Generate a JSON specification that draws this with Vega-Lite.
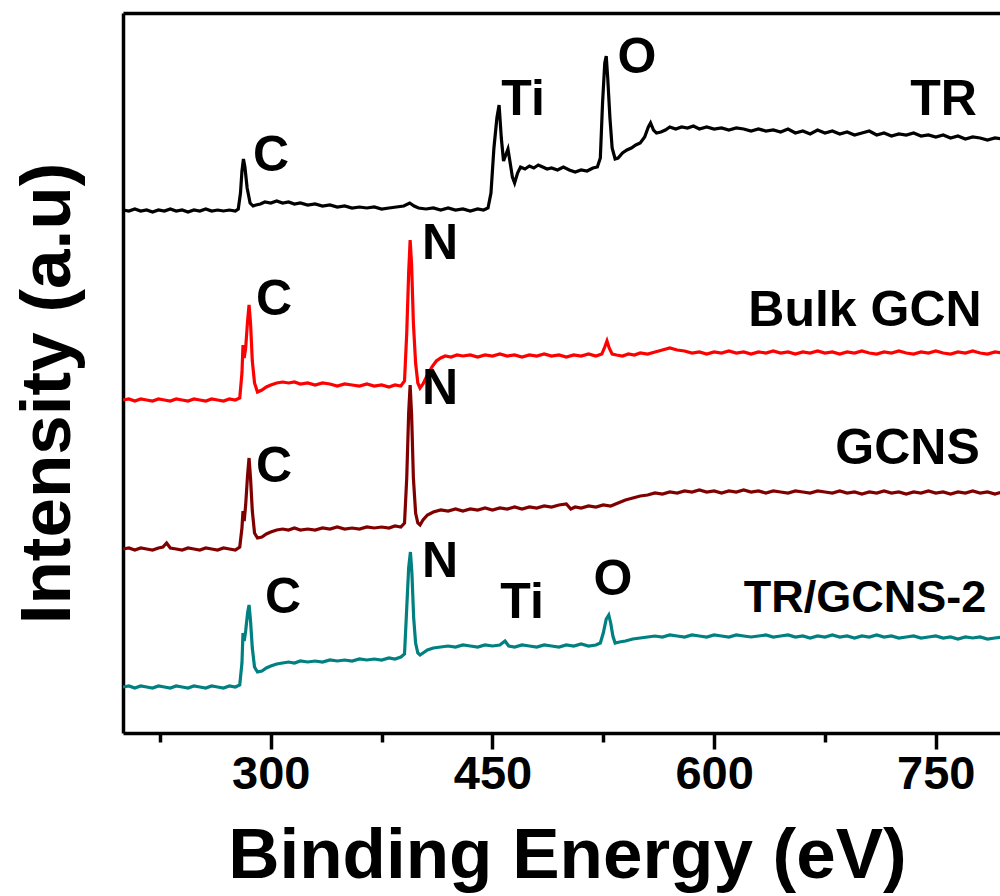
{
"$schema": "https://vega.github.io/schema/vega-lite/v6.json",
"width": 877, "height": 720,
"autosize": {"type": "none"},
"padding": {"left": 123, "top": 13, "right": 0, "bottom": 163},
"background": "white",
"config": {"view": {"stroke": null}, "font": "Liberation Sans"},
"datasets": {
"spectra": [
{"s":"TR","x":200,"y":523},{"s":"TR","x":204,"y":522},{"s":"TR","x":208,"y":524},{"s":"TR","x":212,"y":522},{"s":"TR","x":216,"y":523},{"s":"TR","x":220,"y":521},{"s":"TR","x":224,"y":523},{"s":"TR","x":228,"y":522},{"s":"TR","x":232,"y":524},{"s":"TR","x":236,"y":522},{"s":"TR","x":240,"y":523},{"s":"TR","x":244,"y":521},{"s":"TR","x":248,"y":523},{"s":"TR","x":252,"y":522},{"s":"TR","x":256,"y":524},{"s":"TR","x":260,"y":522},{"s":"TR","x":264,"y":523},{"s":"TR","x":268,"y":522},{"s":"TR","x":272,"y":523},{"s":"TR","x":276,"y":522},{"s":"TR","x":278,"y":524},{"s":"TR","x":279.5,"y":540},{"s":"TR","x":280.5,"y":562},{"s":"TR","x":281.5,"y":574},{"s":"TR","x":282.5,"y":566},{"s":"TR","x":284,"y":545},{"s":"TR","x":286,"y":530},{"s":"TR","x":288,"y":527},{"s":"TR","x":290,"y":528},{"s":"TR","x":293,"y":529},{"s":"TR","x":296,"y":531},{"s":"TR","x":300,"y":530},{"s":"TR","x":304,"y":532},{"s":"TR","x":308,"y":530},{"s":"TR","x":312,"y":531},{"s":"TR","x":316,"y":529},{"s":"TR","x":320,"y":530},{"s":"TR","x":325,"y":528},{"s":"TR","x":330,"y":529},{"s":"TR","x":335,"y":527},{"s":"TR","x":340,"y":528},{"s":"TR","x":345,"y":526},{"s":"TR","x":350,"y":527},{"s":"TR","x":355,"y":525},{"s":"TR","x":360,"y":526},{"s":"TR","x":365,"y":525},{"s":"TR","x":370,"y":526},{"s":"TR","x":375,"y":524},{"s":"TR","x":380,"y":525},{"s":"TR","x":385,"y":526},{"s":"TR","x":390,"y":527},{"s":"TR","x":394,"y":530},{"s":"TR","x":397,"y":527},{"s":"TR","x":400,"y":525},{"s":"TR","x":405,"y":524},{"s":"TR","x":410,"y":525},{"s":"TR","x":415,"y":523},{"s":"TR","x":420,"y":525},{"s":"TR","x":425,"y":523},{"s":"TR","x":430,"y":524},{"s":"TR","x":435,"y":522},{"s":"TR","x":440,"y":524},{"s":"TR","x":444,"y":523},{"s":"TR","x":447,"y":525},{"s":"TR","x":449,"y":540},{"s":"TR","x":451,"y":585},{"s":"TR","x":453,"y":615},{"s":"TR","x":454.5,"y":628},{"s":"TR","x":456,"y":595},{"s":"TR","x":457.5,"y":572},{"s":"TR","x":459,"y":578},{"s":"TR","x":460.5,"y":584},{"s":"TR","x":462,"y":570},{"s":"TR","x":463.5,"y":556},{"s":"TR","x":465,"y":550},{"s":"TR","x":467,"y":560},{"s":"TR","x":469,"y":566},{"s":"TR","x":472,"y":564},{"s":"TR","x":475,"y":567},{"s":"TR","x":478,"y":565},{"s":"TR","x":481,"y":568},{"s":"TR","x":484,"y":566},{"s":"TR","x":487,"y":564},{"s":"TR","x":490,"y":565},{"s":"TR","x":494,"y":563},{"s":"TR","x":498,"y":566},{"s":"TR","x":502,"y":563},{"s":"TR","x":506,"y":561},{"s":"TR","x":510,"y":563},{"s":"TR","x":514,"y":562},{"s":"TR","x":518,"y":565},{"s":"TR","x":521,"y":566},{"s":"TR","x":523,"y":575},{"s":"TR","x":524.5,"y":630},{"s":"TR","x":526,"y":670},{"s":"TR","x":527,"y":677},{"s":"TR","x":528,"y":655},{"s":"TR","x":529.5,"y":615},{"s":"TR","x":531,"y":585},{"s":"TR","x":533,"y":574},{"s":"TR","x":535,"y":575},{"s":"TR","x":538,"y":580},{"s":"TR","x":541,"y":583},{"s":"TR","x":544,"y":585},{"s":"TR","x":547,"y":588},{"s":"TR","x":550,"y":590},{"s":"TR","x":553,"y":596},{"s":"TR","x":555.5,"y":606},{"s":"TR","x":557,"y":610},{"s":"TR","x":559,"y":603},{"s":"TR","x":561,"y":600},{"s":"TR","x":564,"y":601},{"s":"TR","x":567,"y":603},{"s":"TR","x":570,"y":606},{"s":"TR","x":574,"y":604},{"s":"TR","x":578,"y":606},{"s":"TR","x":582,"y":605},{"s":"TR","x":586,"y":607},{"s":"TR","x":590,"y":604},{"s":"TR","x":595,"y":606},{"s":"TR","x":600,"y":604},{"s":"TR","x":605,"y":605},{"s":"TR","x":610,"y":603},{"s":"TR","x":615,"y":605},{"s":"TR","x":620,"y":604},{"s":"TR","x":625,"y":602},{"s":"TR","x":630,"y":604},{"s":"TR","x":635,"y":602},{"s":"TR","x":640,"y":603},{"s":"TR","x":645,"y":601},{"s":"TR","x":650,"y":604},{"s":"TR","x":655,"y":600},{"s":"TR","x":660,"y":602},{"s":"TR","x":665,"y":599},{"s":"TR","x":670,"y":603},{"s":"TR","x":675,"y":600},{"s":"TR","x":680,"y":602},{"s":"TR","x":685,"y":599},{"s":"TR","x":690,"y":601},{"s":"TR","x":695,"y":598},{"s":"TR","x":700,"y":600},{"s":"TR","x":705,"y":602},{"s":"TR","x":710,"y":598},{"s":"TR","x":715,"y":600},{"s":"TR","x":720,"y":597},{"s":"TR","x":725,"y":599},{"s":"TR","x":730,"y":598},{"s":"TR","x":735,"y":600},{"s":"TR","x":740,"y":597},{"s":"TR","x":745,"y":598},{"s":"TR","x":750,"y":596},{"s":"TR","x":755,"y":598},{"s":"TR","x":760,"y":595},{"s":"TR","x":765,"y":597},{"s":"TR","x":770,"y":594},{"s":"TR","x":775,"y":596},{"s":"TR","x":780,"y":595},{"s":"TR","x":785,"y":593},{"s":"TR","x":790,"y":595},{"s":"TR","x":795,"y":594},
{"s":"Bulk GCN","x":200,"y":333},{"s":"Bulk GCN","x":204,"y":334},{"s":"Bulk GCN","x":208,"y":332},{"s":"Bulk GCN","x":212,"y":334},{"s":"Bulk GCN","x":216,"y":333},{"s":"Bulk GCN","x":220,"y":332},{"s":"Bulk GCN","x":224,"y":334},{"s":"Bulk GCN","x":228,"y":333},{"s":"Bulk GCN","x":232,"y":332},{"s":"Bulk GCN","x":236,"y":334},{"s":"Bulk GCN","x":240,"y":333},{"s":"Bulk GCN","x":244,"y":332},{"s":"Bulk GCN","x":248,"y":334},{"s":"Bulk GCN","x":252,"y":333},{"s":"Bulk GCN","x":256,"y":332},{"s":"Bulk GCN","x":260,"y":334},{"s":"Bulk GCN","x":264,"y":333},{"s":"Bulk GCN","x":268,"y":332},{"s":"Bulk GCN","x":272,"y":334},{"s":"Bulk GCN","x":276,"y":333},{"s":"Bulk GCN","x":279,"y":335},{"s":"Bulk GCN","x":280.5,"y":360},{"s":"Bulk GCN","x":281.2,"y":388},{"s":"Bulk GCN","x":282,"y":375},{"s":"Bulk GCN","x":283,"y":385},{"s":"Bulk GCN","x":284.3,"y":412},{"s":"Bulk GCN","x":285.3,"y":428},{"s":"Bulk GCN","x":286.3,"y":410},{"s":"Bulk GCN","x":287.5,"y":372},{"s":"Bulk GCN","x":289,"y":350},{"s":"Bulk GCN","x":291,"y":341},{"s":"Bulk GCN","x":294,"y":343},{"s":"Bulk GCN","x":297,"y":346},{"s":"Bulk GCN","x":300,"y":348},{"s":"Bulk GCN","x":304,"y":350},{"s":"Bulk GCN","x":308,"y":351},{"s":"Bulk GCN","x":312,"y":350},{"s":"Bulk GCN","x":316,"y":351},{"s":"Bulk GCN","x":320,"y":349},{"s":"Bulk GCN","x":325,"y":350},{"s":"Bulk GCN","x":330,"y":348},{"s":"Bulk GCN","x":335,"y":350},{"s":"Bulk GCN","x":340,"y":349},{"s":"Bulk GCN","x":345,"y":347},{"s":"Bulk GCN","x":350,"y":349},{"s":"Bulk GCN","x":355,"y":348},{"s":"Bulk GCN","x":360,"y":347},{"s":"Bulk GCN","x":365,"y":349},{"s":"Bulk GCN","x":370,"y":347},{"s":"Bulk GCN","x":375,"y":348},{"s":"Bulk GCN","x":380,"y":346},{"s":"Bulk GCN","x":384,"y":348},{"s":"Bulk GCN","x":388,"y":347},{"s":"Bulk GCN","x":390.5,"y":352},{"s":"Bulk GCN","x":392,"y":400},{"s":"Bulk GCN","x":393.3,"y":460},{"s":"Bulk GCN","x":394.3,"y":493},{"s":"Bulk GCN","x":395.3,"y":468},{"s":"Bulk GCN","x":396.5,"y":410},{"s":"Bulk GCN","x":398,"y":370},{"s":"Bulk GCN","x":399.5,"y":350},{"s":"Bulk GCN","x":401,"y":345},{"s":"Bulk GCN","x":403,"y":349},{"s":"Bulk GCN","x":406,"y":358},{"s":"Bulk GCN","x":409,"y":366},{"s":"Bulk GCN","x":412,"y":372},{"s":"Bulk GCN","x":415,"y":375},{"s":"Bulk GCN","x":418,"y":377},{"s":"Bulk GCN","x":422,"y":376},{"s":"Bulk GCN","x":426,"y":378},{"s":"Bulk GCN","x":430,"y":377},{"s":"Bulk GCN","x":435,"y":378},{"s":"Bulk GCN","x":440,"y":376},{"s":"Bulk GCN","x":445,"y":378},{"s":"Bulk GCN","x":450,"y":377},{"s":"Bulk GCN","x":455,"y":379},{"s":"Bulk GCN","x":460,"y":377},{"s":"Bulk GCN","x":465,"y":378},{"s":"Bulk GCN","x":470,"y":376},{"s":"Bulk GCN","x":475,"y":378},{"s":"Bulk GCN","x":480,"y":377},{"s":"Bulk GCN","x":485,"y":379},{"s":"Bulk GCN","x":490,"y":377},{"s":"Bulk GCN","x":495,"y":378},{"s":"Bulk GCN","x":500,"y":376},{"s":"Bulk GCN","x":505,"y":378},{"s":"Bulk GCN","x":510,"y":377},{"s":"Bulk GCN","x":515,"y":379},{"s":"Bulk GCN","x":520,"y":377},{"s":"Bulk GCN","x":524,"y":379},{"s":"Bulk GCN","x":526,"y":386},{"s":"Bulk GCN","x":527.5,"y":392},{"s":"Bulk GCN","x":529,"y":385},{"s":"Bulk GCN","x":531,"y":379},{"s":"Bulk GCN","x":534,"y":378},{"s":"Bulk GCN","x":538,"y":377},{"s":"Bulk GCN","x":542,"y":379},{"s":"Bulk GCN","x":546,"y":378},{"s":"Bulk GCN","x":550,"y":380},{"s":"Bulk GCN","x":555,"y":379},{"s":"Bulk GCN","x":560,"y":381},{"s":"Bulk GCN","x":565,"y":383},{"s":"Bulk GCN","x":570,"y":385},{"s":"Bulk GCN","x":575,"y":383},{"s":"Bulk GCN","x":580,"y":382},{"s":"Bulk GCN","x":585,"y":380},{"s":"Bulk GCN","x":590,"y":381},{"s":"Bulk GCN","x":595,"y":379},{"s":"Bulk GCN","x":600,"y":381},{"s":"Bulk GCN","x":605,"y":380},{"s":"Bulk GCN","x":610,"y":382},{"s":"Bulk GCN","x":615,"y":380},{"s":"Bulk GCN","x":620,"y":381},{"s":"Bulk GCN","x":625,"y":379},{"s":"Bulk GCN","x":630,"y":381},{"s":"Bulk GCN","x":635,"y":380},{"s":"Bulk GCN","x":640,"y":382},{"s":"Bulk GCN","x":645,"y":380},{"s":"Bulk GCN","x":650,"y":381},{"s":"Bulk GCN","x":655,"y":379},{"s":"Bulk GCN","x":660,"y":381},{"s":"Bulk GCN","x":665,"y":380},{"s":"Bulk GCN","x":670,"y":382},{"s":"Bulk GCN","x":675,"y":380},{"s":"Bulk GCN","x":680,"y":381},{"s":"Bulk GCN","x":685,"y":379},{"s":"Bulk GCN","x":690,"y":381},{"s":"Bulk GCN","x":695,"y":380},{"s":"Bulk GCN","x":700,"y":382},{"s":"Bulk GCN","x":705,"y":380},{"s":"Bulk GCN","x":710,"y":379},{"s":"Bulk GCN","x":715,"y":381},{"s":"Bulk GCN","x":720,"y":380},{"s":"Bulk GCN","x":725,"y":382},{"s":"Bulk GCN","x":730,"y":380},{"s":"Bulk GCN","x":735,"y":379},{"s":"Bulk GCN","x":740,"y":381},{"s":"Bulk GCN","x":745,"y":380},{"s":"Bulk GCN","x":750,"y":382},{"s":"Bulk GCN","x":755,"y":380},{"s":"Bulk GCN","x":760,"y":379},{"s":"Bulk GCN","x":765,"y":381},{"s":"Bulk GCN","x":770,"y":380},{"s":"Bulk GCN","x":775,"y":382},{"s":"Bulk GCN","x":780,"y":380},{"s":"Bulk GCN","x":785,"y":379},{"s":"Bulk GCN","x":790,"y":381},{"s":"Bulk GCN","x":795,"y":380},
{"s":"GCNS","x":200,"y":184},{"s":"GCNS","x":204,"y":185},{"s":"GCNS","x":208,"y":183},{"s":"GCNS","x":212,"y":185},{"s":"GCNS","x":216,"y":184},{"s":"GCNS","x":220,"y":183},{"s":"GCNS","x":224,"y":185},{"s":"GCNS","x":227,"y":186},{"s":"GCNS","x":229.5,"y":190},{"s":"GCNS","x":232,"y":185},{"s":"GCNS","x":236,"y":184},{"s":"GCNS","x":240,"y":183},{"s":"GCNS","x":244,"y":185},{"s":"GCNS","x":248,"y":184},{"s":"GCNS","x":252,"y":183},{"s":"GCNS","x":256,"y":185},{"s":"GCNS","x":260,"y":184},{"s":"GCNS","x":264,"y":183},{"s":"GCNS","x":268,"y":185},{"s":"GCNS","x":272,"y":184},{"s":"GCNS","x":276,"y":183},{"s":"GCNS","x":279,"y":186},{"s":"GCNS","x":280.5,"y":205},{"s":"GCNS","x":281.2,"y":222},{"s":"GCNS","x":282,"y":212},{"s":"GCNS","x":283,"y":228},{"s":"GCNS","x":284.3,"y":258},{"s":"GCNS","x":285.3,"y":275},{"s":"GCNS","x":286.3,"y":255},{"s":"GCNS","x":287.5,"y":222},{"s":"GCNS","x":289,"y":200},{"s":"GCNS","x":291,"y":195},{"s":"GCNS","x":294,"y":196},{"s":"GCNS","x":297,"y":199},{"s":"GCNS","x":300,"y":201},{"s":"GCNS","x":304,"y":203},{"s":"GCNS","x":308,"y":204},{"s":"GCNS","x":312,"y":203},{"s":"GCNS","x":316,"y":205},{"s":"GCNS","x":320,"y":203},{"s":"GCNS","x":325,"y":204},{"s":"GCNS","x":330,"y":203},{"s":"GCNS","x":335,"y":205},{"s":"GCNS","x":340,"y":204},{"s":"GCNS","x":345,"y":206},{"s":"GCNS","x":350,"y":204},{"s":"GCNS","x":355,"y":205},{"s":"GCNS","x":360,"y":204},{"s":"GCNS","x":365,"y":206},{"s":"GCNS","x":370,"y":205},{"s":"GCNS","x":375,"y":206},{"s":"GCNS","x":380,"y":205},{"s":"GCNS","x":384,"y":207},{"s":"GCNS","x":388,"y":206},{"s":"GCNS","x":390.5,"y":210},{"s":"GCNS","x":392,"y":255},{"s":"GCNS","x":393.3,"y":320},{"s":"GCNS","x":394.3,"y":348},{"s":"GCNS","x":395.3,"y":318},{"s":"GCNS","x":396.5,"y":255},{"s":"GCNS","x":398,"y":220},{"s":"GCNS","x":399.5,"y":210},{"s":"GCNS","x":401,"y":208},{"s":"GCNS","x":403,"y":213},{"s":"GCNS","x":406,"y":218},{"s":"GCNS","x":410,"y":221},{"s":"GCNS","x":415,"y":223},{"s":"GCNS","x":420,"y":222},{"s":"GCNS","x":425,"y":224},{"s":"GCNS","x":430,"y":222},{"s":"GCNS","x":435,"y":224},{"s":"GCNS","x":440,"y":223},{"s":"GCNS","x":445,"y":225},{"s":"GCNS","x":450,"y":223},{"s":"GCNS","x":455,"y":225},{"s":"GCNS","x":460,"y":224},{"s":"GCNS","x":465,"y":226},{"s":"GCNS","x":470,"y":224},{"s":"GCNS","x":475,"y":226},{"s":"GCNS","x":480,"y":225},{"s":"GCNS","x":485,"y":227},{"s":"GCNS","x":490,"y":226},{"s":"GCNS","x":495,"y":228},{"s":"GCNS","x":500,"y":229},{"s":"GCNS","x":503,"y":224},{"s":"GCNS","x":506,"y":226},{"s":"GCNS","x":510,"y":225},{"s":"GCNS","x":515,"y":227},{"s":"GCNS","x":520,"y":226},{"s":"GCNS","x":525,"y":228},{"s":"GCNS","x":530,"y":227},{"s":"GCNS","x":535,"y":230},{"s":"GCNS","x":540,"y":233},{"s":"GCNS","x":545,"y":235},{"s":"GCNS","x":550,"y":237},{"s":"GCNS","x":555,"y":238},{"s":"GCNS","x":560,"y":240},{"s":"GCNS","x":565,"y":239},{"s":"GCNS","x":570,"y":241},{"s":"GCNS","x":575,"y":240},{"s":"GCNS","x":580,"y":242},{"s":"GCNS","x":585,"y":241},{"s":"GCNS","x":590,"y":243},{"s":"GCNS","x":595,"y":241},{"s":"GCNS","x":600,"y":242},{"s":"GCNS","x":605,"y":240},{"s":"GCNS","x":610,"y":242},{"s":"GCNS","x":615,"y":241},{"s":"GCNS","x":620,"y":243},{"s":"GCNS","x":625,"y":241},{"s":"GCNS","x":630,"y":242},{"s":"GCNS","x":635,"y":240},{"s":"GCNS","x":640,"y":242},{"s":"GCNS","x":645,"y":241},{"s":"GCNS","x":650,"y":240},{"s":"GCNS","x":655,"y":242},{"s":"GCNS","x":660,"y":241},{"s":"GCNS","x":665,"y":240},{"s":"GCNS","x":670,"y":242},{"s":"GCNS","x":675,"y":241},{"s":"GCNS","x":680,"y":240},{"s":"GCNS","x":685,"y":242},{"s":"GCNS","x":690,"y":240},{"s":"GCNS","x":695,"y":241},{"s":"GCNS","x":700,"y":239},{"s":"GCNS","x":705,"y":241},{"s":"GCNS","x":710,"y":240},{"s":"GCNS","x":715,"y":242},{"s":"GCNS","x":720,"y":240},{"s":"GCNS","x":725,"y":241},{"s":"GCNS","x":730,"y":239},{"s":"GCNS","x":735,"y":241},{"s":"GCNS","x":740,"y":240},{"s":"GCNS","x":745,"y":242},{"s":"GCNS","x":750,"y":240},{"s":"GCNS","x":755,"y":241},{"s":"GCNS","x":760,"y":239},{"s":"GCNS","x":765,"y":241},{"s":"GCNS","x":770,"y":240},{"s":"GCNS","x":775,"y":242},{"s":"GCNS","x":780,"y":240},{"s":"GCNS","x":785,"y":241},{"s":"GCNS","x":790,"y":239},{"s":"GCNS","x":795,"y":241},
{"s":"TR/GCNS-2","x":200,"y":46},{"s":"TR/GCNS-2","x":204,"y":47},{"s":"TR/GCNS-2","x":208,"y":45},{"s":"TR/GCNS-2","x":212,"y":47},{"s":"TR/GCNS-2","x":216,"y":46},{"s":"TR/GCNS-2","x":220,"y":45},{"s":"TR/GCNS-2","x":224,"y":47},{"s":"TR/GCNS-2","x":228,"y":46},{"s":"TR/GCNS-2","x":232,"y":45},{"s":"TR/GCNS-2","x":236,"y":47},{"s":"TR/GCNS-2","x":240,"y":46},{"s":"TR/GCNS-2","x":244,"y":45},{"s":"TR/GCNS-2","x":248,"y":47},{"s":"TR/GCNS-2","x":252,"y":46},{"s":"TR/GCNS-2","x":256,"y":45},{"s":"TR/GCNS-2","x":260,"y":47},{"s":"TR/GCNS-2","x":264,"y":46},{"s":"TR/GCNS-2","x":268,"y":45},{"s":"TR/GCNS-2","x":272,"y":47},{"s":"TR/GCNS-2","x":276,"y":46},{"s":"TR/GCNS-2","x":279,"y":48},{"s":"TR/GCNS-2","x":280.5,"y":70},{"s":"TR/GCNS-2","x":281.2,"y":100},{"s":"TR/GCNS-2","x":282,"y":92},{"s":"TR/GCNS-2","x":283,"y":102},{"s":"TR/GCNS-2","x":284.3,"y":120},{"s":"TR/GCNS-2","x":285.3,"y":128},{"s":"TR/GCNS-2","x":286.3,"y":112},{"s":"TR/GCNS-2","x":287.5,"y":85},{"s":"TR/GCNS-2","x":289,"y":66},{"s":"TR/GCNS-2","x":291,"y":61},{"s":"TR/GCNS-2","x":294,"y":62},{"s":"TR/GCNS-2","x":297,"y":65},{"s":"TR/GCNS-2","x":300,"y":67},{"s":"TR/GCNS-2","x":304,"y":69},{"s":"TR/GCNS-2","x":308,"y":70},{"s":"TR/GCNS-2","x":312,"y":71},{"s":"TR/GCNS-2","x":316,"y":70},{"s":"TR/GCNS-2","x":320,"y":72},{"s":"TR/GCNS-2","x":325,"y":71},{"s":"TR/GCNS-2","x":330,"y":72},{"s":"TR/GCNS-2","x":335,"y":71},{"s":"TR/GCNS-2","x":340,"y":73},{"s":"TR/GCNS-2","x":345,"y":72},{"s":"TR/GCNS-2","x":350,"y":73},{"s":"TR/GCNS-2","x":355,"y":72},{"s":"TR/GCNS-2","x":360,"y":74},{"s":"TR/GCNS-2","x":365,"y":73},{"s":"TR/GCNS-2","x":370,"y":74},{"s":"TR/GCNS-2","x":375,"y":73},{"s":"TR/GCNS-2","x":380,"y":75},{"s":"TR/GCNS-2","x":384,"y":74},{"s":"TR/GCNS-2","x":388,"y":76},{"s":"TR/GCNS-2","x":390.5,"y":79},{"s":"TR/GCNS-2","x":392,"y":125},{"s":"TR/GCNS-2","x":393.3,"y":165},{"s":"TR/GCNS-2","x":394.5,"y":181},{"s":"TR/GCNS-2","x":395.5,"y":160},{"s":"TR/GCNS-2","x":396.7,"y":115},{"s":"TR/GCNS-2","x":398,"y":90},{"s":"TR/GCNS-2","x":399.5,"y":80},{"s":"TR/GCNS-2","x":401,"y":78},{"s":"TR/GCNS-2","x":403,"y":80},{"s":"TR/GCNS-2","x":406,"y":83},{"s":"TR/GCNS-2","x":410,"y":85},{"s":"TR/GCNS-2","x":415,"y":86},{"s":"TR/GCNS-2","x":420,"y":87},{"s":"TR/GCNS-2","x":425,"y":86},{"s":"TR/GCNS-2","x":430,"y":88},{"s":"TR/GCNS-2","x":435,"y":87},{"s":"TR/GCNS-2","x":440,"y":86},{"s":"TR/GCNS-2","x":445,"y":88},{"s":"TR/GCNS-2","x":450,"y":87},{"s":"TR/GCNS-2","x":455,"y":88},{"s":"TR/GCNS-2","x":458.5,"y":92},{"s":"TR/GCNS-2","x":461,"y":87},{"s":"TR/GCNS-2","x":465,"y":86},{"s":"TR/GCNS-2","x":470,"y":88},{"s":"TR/GCNS-2","x":475,"y":87},{"s":"TR/GCNS-2","x":480,"y":86},{"s":"TR/GCNS-2","x":485,"y":88},{"s":"TR/GCNS-2","x":490,"y":87},{"s":"TR/GCNS-2","x":495,"y":86},{"s":"TR/GCNS-2","x":500,"y":88},{"s":"TR/GCNS-2","x":505,"y":87},{"s":"TR/GCNS-2","x":510,"y":89},{"s":"TR/GCNS-2","x":515,"y":87},{"s":"TR/GCNS-2","x":520,"y":88},{"s":"TR/GCNS-2","x":523,"y":90},{"s":"TR/GCNS-2","x":525,"y":100},{"s":"TR/GCNS-2","x":527,"y":114},{"s":"TR/GCNS-2","x":528.7,"y":118},{"s":"TR/GCNS-2","x":530,"y":110},{"s":"TR/GCNS-2","x":531.5,"y":97},{"s":"TR/GCNS-2","x":533,"y":90},{"s":"TR/GCNS-2","x":536,"y":91},{"s":"TR/GCNS-2","x":540,"y":92},{"s":"TR/GCNS-2","x":545,"y":94},{"s":"TR/GCNS-2","x":550,"y":95},{"s":"TR/GCNS-2","x":555,"y":96},{"s":"TR/GCNS-2","x":560,"y":97},{"s":"TR/GCNS-2","x":565,"y":96},{"s":"TR/GCNS-2","x":570,"y":98},{"s":"TR/GCNS-2","x":575,"y":97},{"s":"TR/GCNS-2","x":580,"y":96},{"s":"TR/GCNS-2","x":585,"y":98},{"s":"TR/GCNS-2","x":590,"y":97},{"s":"TR/GCNS-2","x":595,"y":96},{"s":"TR/GCNS-2","x":600,"y":98},{"s":"TR/GCNS-2","x":605,"y":97},{"s":"TR/GCNS-2","x":610,"y":96},{"s":"TR/GCNS-2","x":615,"y":98},{"s":"TR/GCNS-2","x":620,"y":97},{"s":"TR/GCNS-2","x":625,"y":96},{"s":"TR/GCNS-2","x":630,"y":97},{"s":"TR/GCNS-2","x":635,"y":98},{"s":"TR/GCNS-2","x":640,"y":96},{"s":"TR/GCNS-2","x":645,"y":97},{"s":"TR/GCNS-2","x":650,"y":98},{"s":"TR/GCNS-2","x":655,"y":96},{"s":"TR/GCNS-2","x":660,"y":97},{"s":"TR/GCNS-2","x":665,"y":95},{"s":"TR/GCNS-2","x":670,"y":97},{"s":"TR/GCNS-2","x":675,"y":96},{"s":"TR/GCNS-2","x":680,"y":98},{"s":"TR/GCNS-2","x":685,"y":96},{"s":"TR/GCNS-2","x":690,"y":97},{"s":"TR/GCNS-2","x":695,"y":95},{"s":"TR/GCNS-2","x":700,"y":97},{"s":"TR/GCNS-2","x":705,"y":96},{"s":"TR/GCNS-2","x":710,"y":98},{"s":"TR/GCNS-2","x":715,"y":96},{"s":"TR/GCNS-2","x":720,"y":97},{"s":"TR/GCNS-2","x":725,"y":95},{"s":"TR/GCNS-2","x":730,"y":96},{"s":"TR/GCNS-2","x":735,"y":97},{"s":"TR/GCNS-2","x":740,"y":95},{"s":"TR/GCNS-2","x":745,"y":96},{"s":"TR/GCNS-2","x":750,"y":97},{"s":"TR/GCNS-2","x":755,"y":95},{"s":"TR/GCNS-2","x":760,"y":96},{"s":"TR/GCNS-2","x":765,"y":94},{"s":"TR/GCNS-2","x":770,"y":96},{"s":"TR/GCNS-2","x":775,"y":95},{"s":"TR/GCNS-2","x":780,"y":96},{"s":"TR/GCNS-2","x":785,"y":94},{"s":"TR/GCNS-2","x":790,"y":95},{"s":"TR/GCNS-2","x":795,"y":96}
],
"labels": [
{"label":"C","x":300.1,"y":577},{"label":"Ti","x":470.7,"y":633},{"label":"O","x":547.8,"y":675},{"label":"TR","x":755.2,"y":633},
{"label":"C","x":302.2,"y":433},{"label":"N","x":414.5,"y":489},{"label":"Bulk GCN","x":702.1,"y":422},
{"label":"C","x":302.2,"y":266},{"label":"N","x":414.5,"y":344},{"label":"GCNS","x":730.9,"y":284},
{"label":"C","x":308.3,"y":135},{"label":"N","x":414.5,"y":171},{"label":"Ti","x":470,"y":130},{"label":"O","x":531.6,"y":153}
],
"names2": [
{"label":"TR/GCNS-2","x":702.1,"y":135}
]
},
"layer": [
{
"data": {"name": "spectra"},
"mark": {"type": "line", "strokeWidth": 3.2, "clip": true},
"encoding": {
"x": {"field": "x", "type": "quantitative", "scale": {"domain": [200, 793.45], "nice": false, "zero": false},
"axis": {"orient": "bottom", "values": [225, 300, 375, 450, 525, 600, 675, 750],
"labelExpr": "datum.value % 150 === 0 ? datum.label : ''",
"tickSize": {"condition": {"test": "datum.value % 150 === 0", "value": 16}, "value": 9},
"tickWidth": 3.5, "tickColor": "black", "domainWidth": 3.5, "domainColor": "black", "grid": false,
"labelFont": "Liberation Sans", "labelFontWeight": "bold", "labelFontSize": 47, "labelColor": "black",
"labelPadding": 2, "labelFlush": false, "labelOverlap": false,
"title": "Binding Energy (eV)", "titleFont": "Liberation Sans", "titleFontWeight": "bold", "titleFontSize": 71,
"titleColor": "black", "titleX": 444, "titleY": 144, "titleBaseline": "alphabetic"}},
"y": {"field": "y", "type": "quantitative", "scale": {"domain": [0, 720], "nice": false, "zero": false},
"axis": {"orient": "left", "ticks": false, "labels": false, "grid": false, "domain": true, "domainWidth": 3.5, "domainColor": "black",
"title": "Intensity (a.u)", "titleFont": "Liberation Sans", "titleFontWeight": "bold", "titleFontSize": 71,
"titleColor": "black", "titleAngle": 270, "titleX": -54, "titleY": 380, "titleBaseline": "alphabetic", "titleAlign": "center"}},
"color": {"field": "s", "type": "nominal",
"scale": {"domain": ["TR", "Bulk GCN", "GCNS", "TR/GCNS-2"], "range": ["#000000", "#ff0000", "#800000", "#008080"]},
"legend": null}
}
},
{
"data": {"name": "labels"},
"mark": {"type": "text", "font": "Liberation Sans", "fontWeight": "bold", "fontSize": 50, "color": "black", "baseline": "middle", "align": "center"},
"encoding": {
"x": {"field": "x", "type": "quantitative",
"axis": {"orient": "top", "labels": false, "ticks": false, "domain": true, "domainWidth": 3.5, "domainColor": "black", "title": null, "grid": false}},
"y": {"field": "y", "type": "quantitative", "axis": null},
"text": {"field": "label"}
}
},
{
"data": {"name": "names2"},
"mark": {"type": "text", "font": "Liberation Sans", "fontWeight": "bold", "fontSize": 45, "color": "black", "baseline": "middle", "align": "center"},
"encoding": {
"x": {"field": "x", "type": "quantitative", "axis": null},
"y": {"field": "y", "type": "quantitative", "axis": null},
"text": {"field": "label"}
}
}
],
"resolve": {"axis": {"x": "independent", "y": "independent"}}
}
